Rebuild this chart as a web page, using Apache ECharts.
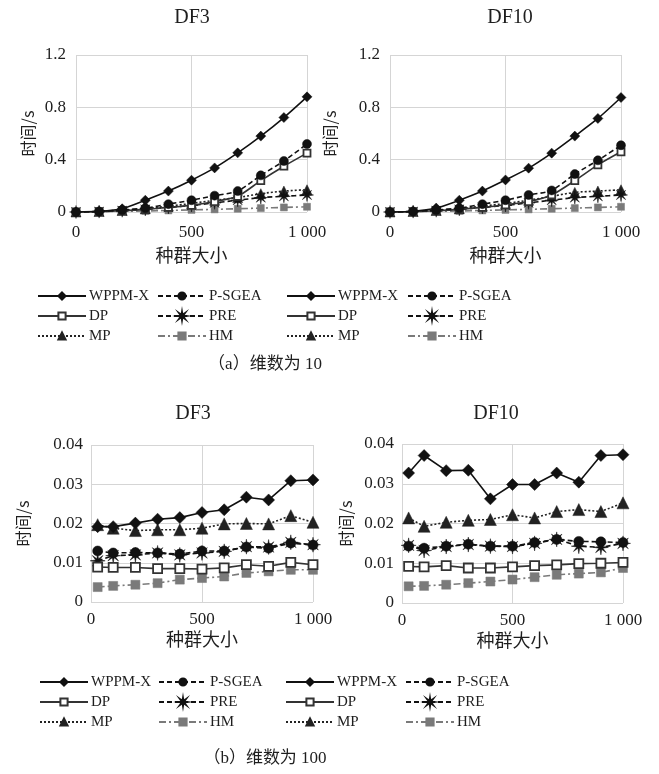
<!DOCTYPE html>
<html><head><meta charset="utf-8">
<script src="https://cdn.jsdelivr.net/npm/echarts@6/dist/echarts.min.js"></script>
<style>html,body{margin:0;padding:0;background:#fff}#c{width:659px;height:774px}</style>
</head><body><div id="c"></div>
<script>
// ---- data ----
const xsA = [0, 100, 200, 300, 400, 500, 600, 700, 800, 900, 1000];
const xsB = [30, 100, 200, 300, 400, 500, 600, 700, 800, 900, 1000];
const seriesNames = ['WPPM-X', 'P-SGEA', 'DP', 'PRE', 'MP', 'HM'];
const panelTitles = ['DF3', 'DF10', 'DF3', 'DF10'];
const captions = ['（a）维数为 10', '（b）维数为 100'];
const xTicksA = [0, 500, 1000];
const yTicksA = [0, 0.4, 0.8, 1.2];
const yTicksB = [0, 0.01, 0.02, 0.03, 0.04];

// (a) dimension 10, DF3
const wppm_a3  = [0, 0.005, 0.025, 0.09, 0.16, 0.243, 0.337, 0.452, 0.58, 0.722, 0.88];
const psgea_a3 = [0, 0.004, 0.015, 0.03, 0.06, 0.09, 0.125, 0.16, 0.28, 0.39, 0.52];
const dp_a3    = [0, 0.003, 0.01, 0.02, 0.035, 0.05, 0.08, 0.12, 0.24, 0.35, 0.45];
const pre_a3   = [0, 0.003, 0.01, 0.02, 0.035, 0.05, 0.07, 0.09, 0.11, 0.12, 0.13];
const mp_a3    = [0, 0.004, 0.012, 0.025, 0.045, 0.065, 0.09, 0.11, 0.14, 0.16, 0.17];
const hm_a3    = [0, 0.002, 0.005, 0.008, 0.012, 0.016, 0.02, 0.025, 0.03, 0.035, 0.04];
// (a) dimension 10, DF10
const wppm_a10  = [0, 0.005, 0.03, 0.09, 0.16, 0.245, 0.335, 0.45, 0.58, 0.715, 0.875];
const psgea_a10 = [0, 0.004, 0.015, 0.03, 0.06, 0.09, 0.13, 0.165, 0.29, 0.395, 0.51];
const dp_a10    = [0, 0.003, 0.01, 0.02, 0.035, 0.055, 0.08, 0.13, 0.24, 0.36, 0.46];
const pre_a10   = [0, 0.003, 0.01, 0.02, 0.035, 0.05, 0.07, 0.09, 0.11, 0.12, 0.13];
const mp_a10    = [0, 0.004, 0.012, 0.025, 0.045, 0.065, 0.09, 0.12, 0.15, 0.16, 0.17];
const hm_a10    = [0, 0.002, 0.005, 0.008, 0.012, 0.016, 0.02, 0.025, 0.03, 0.035, 0.04];
// (b) dimension 100, DF3
const wppm_b3  = [0.0192, 0.0192, 0.0201, 0.0211, 0.0215, 0.0228, 0.0235, 0.0267, 0.026, 0.0309, 0.0311];
const psgea_b3 = [0.013, 0.0125, 0.0126, 0.0125, 0.0122, 0.013, 0.013, 0.014, 0.0137, 0.015, 0.0145];
const dp_b3    = [0.0089, 0.0088, 0.0088, 0.0085, 0.0085, 0.0084, 0.0087, 0.0095, 0.0091, 0.0101, 0.0095];
const pre_b3   = [0.0105, 0.0118, 0.012, 0.0125, 0.012, 0.0125, 0.0129, 0.0141, 0.014, 0.0152, 0.0146];
const mp_b3    = [0.0197, 0.0188, 0.0182, 0.0184, 0.0184, 0.0188, 0.0199, 0.02, 0.0199, 0.022, 0.0203];
const hm_b3    = [0.0038, 0.0041, 0.0044, 0.0048, 0.0057, 0.0061, 0.0065, 0.0074, 0.0078, 0.0082, 0.0082];
// (b) dimension 100, DF10
const wppm_b10  = [0.0327, 0.0371, 0.0333, 0.0334, 0.0262, 0.0298, 0.0298, 0.0327, 0.0304, 0.0371, 0.0373];
const psgea_b10 = [0.0143, 0.0138, 0.0143, 0.0148, 0.0143, 0.0143, 0.0152, 0.016, 0.0155, 0.0154, 0.0152];
const dp_b10    = [0.0092, 0.0091, 0.0094, 0.0088, 0.0088, 0.0091, 0.0094, 0.0096, 0.0099, 0.01, 0.0102];
const pre_b10   = [0.0145, 0.0132, 0.0142, 0.0147, 0.0143, 0.0142, 0.015, 0.016, 0.0143, 0.014, 0.015];
const mp_b10    = [0.0214, 0.0193, 0.0203, 0.0208, 0.021, 0.0222, 0.0214, 0.023, 0.0235, 0.023, 0.0252];
const hm_b10    = [0.0042, 0.0043, 0.0046, 0.005, 0.0054, 0.0059, 0.0065, 0.0071, 0.0074, 0.0077, 0.0088];

const panels = [
  {xs: xsA, ys: [wppm_a3, psgea_a3, dp_a3, pre_a3, mp_a3, hm_a3], big: false},
  {xs: xsA, ys: [wppm_a10, psgea_a10, dp_a10, pre_a10, mp_a10, hm_a10], big: false},
  {xs: xsB, ys: [wppm_b3, psgea_b3, dp_b3, pre_b3, mp_b3, hm_b3], big: true},
  {xs: xsB, ys: [wppm_b10, psgea_b10, dp_b10, pre_b10, mp_b10, hm_b10], big: true}
];

// ---- styles ----
const SERIF = '"Liberation Serif","DejaVu Serif",serif';
const CJK = '"Noto Sans CJK SC","Noto Sans CJK JP",sans-serif';
const TXT = '#1e1e1e';
const GRIDC = '#d5d5d5';
function starPath() {
  let d = '';
  for (let i = 0; i < 16; i++) {
    const r = i % 2 === 0 ? 1 : 0.3;
    const a = Math.PI * i / 8 - Math.PI / 2;
    d += (i ? 'L' : 'M') + (r * Math.cos(a)).toFixed(3) + ' ' + (r * Math.sin(a)).toFixed(3) + ' ';
  }
  return 'path://' + d + 'Z';
}
const STAR = starPath();
const sty = {
  'WPPM-X': {symbol: 'diamond', line: '#111', fill: '#111', border: '#111', type: 'solid', s: [10, 12]},
  'P-SGEA': {symbol: 'circle', line: '#111', fill: '#111', border: '#111', type: [5, 3], s: [9, 10]},
  'DP':     {symbol: 'rect', line: '#333', fill: '#fff', border: '#333', type: 'solid', s: [7, 9]},
  'PRE':    {symbol: STAR, line: '#111', fill: '#111', border: '#111', type: [5, 3], s: [13, 15]},
  'MP':     {symbol: 'triangle', line: '#222', fill: '#222', border: '#222', type: [2, 2], s: [10, 12]},
  'HM':     {symbol: 'rect', line: '#7a7a7a', fill: '#7a7a7a', border: '#7a7a7a', type: [7, 3, 2, 3], s: [7, 9]}
};

const grids = [
  {left: 76, top: 55, width: 231, height: 157},
  {left: 390, top: 55, width: 231, height: 157},
  {left: 91, top: 445, width: 222, height: 157},
  {left: 402, top: 444, width: 221, height: 159}
];

const xAxes = [], yAxes = [], series = [];
panels.forEach((p, gi) => {
  xAxes.push({
    gridIndex: gi, type: 'value', min: xTicksA[0], max: xTicksA[2], interval: xTicksA[1] - xTicksA[0],
    axisLine: {show: false}, axisTick: {show: false},
    splitLine: {show: true, lineStyle: {color: GRIDC, width: 1}},
    axisLabel: {fontFamily: SERIF, fontSize: 17, color: TXT, margin: p.big ? 9 : 12,
      formatter: v => v === 1000 ? '1 000' : String(v)},
    name: '种群大小', nameLocation: 'middle', nameGap: p.big ? 28 : 34,
    nameTextStyle: {fontFamily: CJK, fontSize: 18, color: TXT, verticalAlign: 'top'}
  });
  const yt = p.big ? yTicksB : yTicksA;
  yAxes.push({
    gridIndex: gi, type: 'value', min: yt[0], max: yt[yt.length - 1], interval: yt[1] - yt[0],
    axisLine: {show: false}, axisTick: {show: false},
    splitLine: {show: true, lineStyle: {color: GRIDC, width: 1}},
    axisLabel: {fontFamily: SERIF, fontSize: 17, color: TXT, margin: p.big ? 8 : 10,
      formatter: v => v === 0 ? '0' : v.toFixed(p.big ? 2 : 1)},
    name: '时间/s', nameLocation: 'middle', nameRotate: 90,
    nameGap: [40, 52, 60, 48][gi],
    nameTextStyle: {fontFamily: CJK, fontSize: 16, color: TXT}
  });
  seriesNames.forEach((nm, si) => {
    const st = sty[nm];
    series.push({
      name: nm, type: 'line', xAxisIndex: gi, yAxisIndex: gi,
      data: p.xs.map((x, k) => [x, p.ys[si][k]]),
      smooth: p.big ? false : 0.25,
      symbol: st.symbol, symbolSize: p.big ? st.s[1] : st.s[0],
      showAllSymbol: true,
      lineStyle: {color: st.line, width: 1.6, type: st.type},
      itemStyle: {color: st.fill, borderColor: st.border, borderWidth: nm === 'DP' ? 1.8 : 0.5},
      emphasis: {disabled: true}, silent: true, z: 10 - si
    });
  });
});

function legend(left, top, names) {
  return {
    orient: 'vertical', left: left, top: top, padding: 0, itemGap: 2,
    itemWidth: 48, itemHeight: 9, selectedMode: false, data: names,
    textStyle: {fontFamily: SERIF, fontSize: 15, color: TXT, lineHeight: 18, padding: [0, 0, 0, -2]}
  };
}
const col1 = ['WPPM-X', 'DP', 'MP'];
const col2 = ['P-SGEA', 'PRE', 'HM'];
const legends = [
  legend(37, 287, col1), legend(157, 287, col2), legend(286, 287, col1), legend(407, 287, col2),
  legend(39, 673, col1), legend(158, 673, col2), legend(285, 673, col1), legend(405, 673, col2)
];

const titlePos = [[192, 18], [510, 18], [193, 414], [496, 414]];
const graphics = panelTitles.map((t, i) => ({
  type: 'text', x: titlePos[i][0], y: titlePos[i][1], silent: true,
  style: {text: t, align: 'center', verticalAlign: 'middle', fontFamily: SERIF, fontSize: 20, fill: TXT}
}));
[[265, 365], [265, 759]].forEach((pos, i) => graphics.push({
  type: 'text', x: pos[0], y: pos[1], silent: true,
  style: {text: captions[i], align: 'center', verticalAlign: 'middle',
    fontFamily: '"Liberation Serif","Noto Sans CJK SC",serif', fontSize: 17, fill: TXT}
}));

const chart = echarts.init(document.getElementById('c'), null, {renderer: 'canvas'});
chart.setOption({
  animation: false,
  backgroundColor: '#fff',
  grid: grids,
  xAxis: xAxes,
  yAxis: yAxes,
  legend: legends,
  series: series,
  graphic: graphics
});
</script>
</body></html>
